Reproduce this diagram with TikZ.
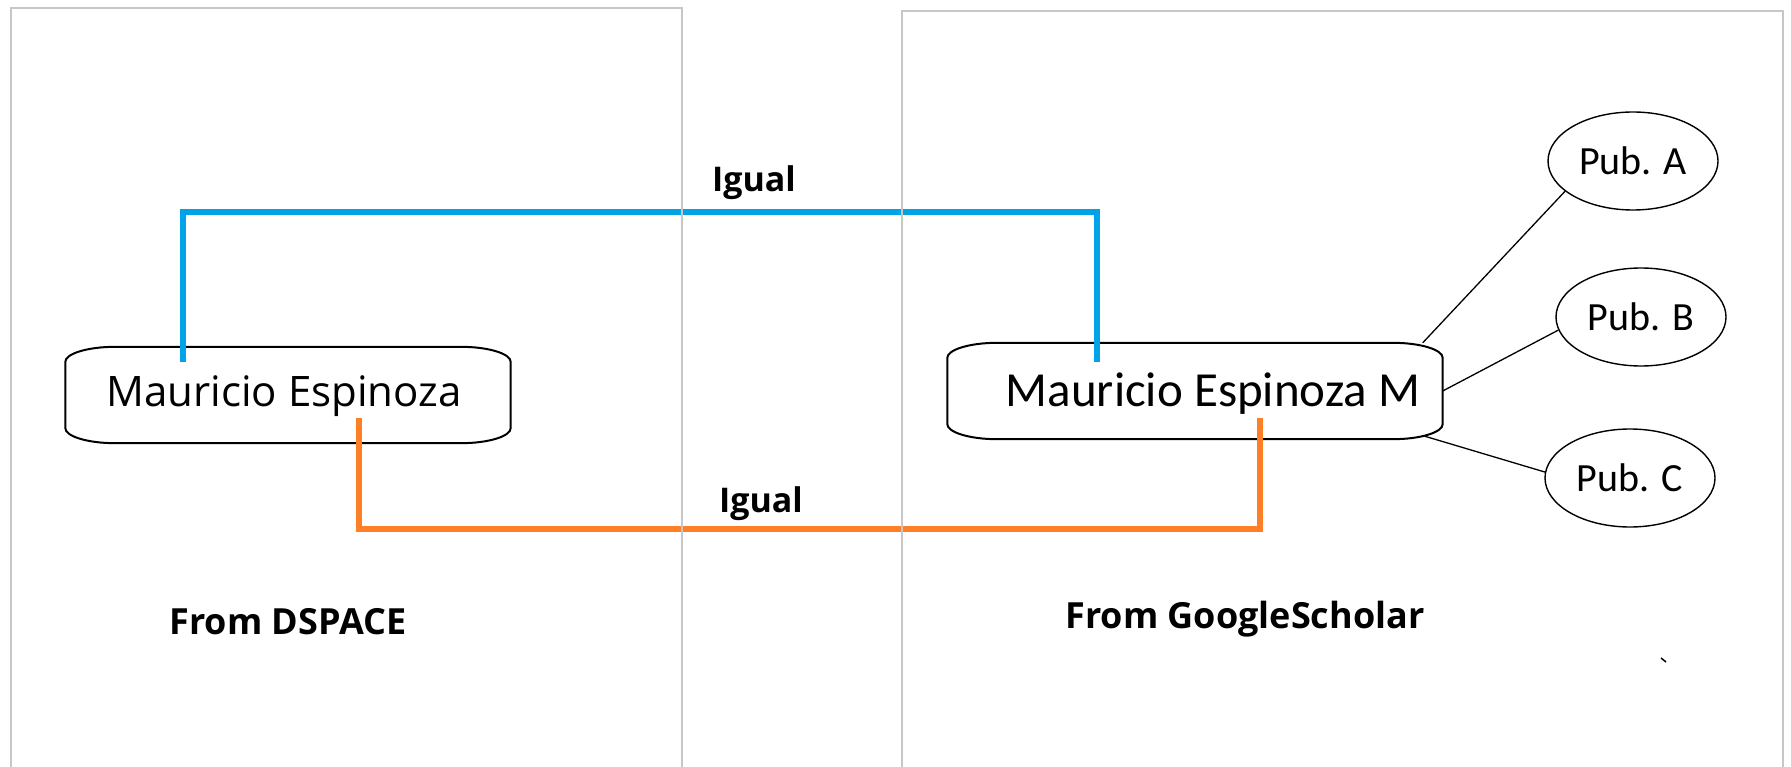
\documentclass[tikz,border=0pt]{standalone}
\usepackage{fontspec}
\setmainfont{Open Sans}
\newfontfamily\calibri{Carlito}
\usetikzlibrary{shapes.geometric}
\usetikzlibrary{calc}

\definecolor{paintblue}{RGB}{0,162,232}
\definecolor{paintorange}{RGB}{255,127,39}

\begin{document}
\begin{tikzpicture}[x=1pt,y=1pt]
  % Definimos los estilos
  \tikzstyle{panel} = [draw=black!22, line width=2pt];
  \tikzstyle{namebox} = [inner sep=0pt, minimum height=96pt];
  \tikzstyle{nametext} = [anchor=base, inner sep=0pt];
  \tikzstyle{pub} = [draw, ellipse, line width=1.4pt, minimum width=170pt, minimum height=98pt, inner sep=0pt, font=\calibri\fontsize{40}{48}\selectfont];
  \tikzstyle{tag} = [anchor=base, inner sep=0pt, font=\bfseries\fontsize{34}{40}\selectfont];
  \tikzstyle{source} = [anchor=base, inner sep=0pt, font=\bfseries\fontsize{36}{42}\selectfont];
  \tikzstyle{link} = [line width=6pt];
  \tikzstyle{publine} = [line width=1.3pt];

  \fill[white] (0,0) rectangle (1791,-767);
  \useasboundingbox (0,0) rectangle (1791,-767);

  % Las dos cajas con el nombre
  \node [namebox, minimum width=445pt] (dsbox) at (288,-395) {};
  \node [namebox, minimum width=495pt] (gsbox) at (1195,-391) {};
  \node [nametext, font=\fontsize{42}{48}\selectfont] (dsname) at (284,-406) {Mauricio Espinoza};
  \node [nametext, font=\calibri\fontsize{49}{56}\selectfont] (gsname) at (1213,-406) {Mauricio Espinoza M};

  % Contorno redondeado de cada caja
  \foreach \b in {dsbox,gsbox}
    \draw [line width=2pt]
      ([xshift=50]\b.north west) -- ([xshift=-50]\b.north east)
      .. controls ([xshift=-22]\b.north east) and ([yshift=-7]\b.north east) .. ([yshift=-15]\b.north east)
      -- ([yshift=15]\b.south east)
      .. controls ([yshift=7]\b.south east) and ([xshift=-22]\b.south east) .. ([xshift=-50]\b.south east)
      -- ([xshift=50]\b.south west)
      .. controls ([xshift=22]\b.south west) and ([yshift=7]\b.south west) .. ([yshift=15]\b.south west)
      -- ([yshift=-15]\b.north west)
      .. controls ([yshift=-7]\b.north west) and ([xshift=22]\b.north west) .. ([xshift=50]\b.north west);

  % Publicaciones
  \node [pub] (pubA) at (1633,-161) {Pub. A};
  \node [pub] (pubB) at (1641,-317) {Pub. B};
  \node [pub] (pubC) at (1630,-478) {Pub. C};

  \draw [publine] ([xshift=-20]gsbox.north east) -- (pubA.204);
  \draw [publine] (gsbox.east) -- (pubB.189);
  \draw [publine] ([xshift=-18,yshift=3]gsbox.south east) -- (pubC.176);

  % Conexiones "Igual"
  \coordinate (blueL) at (183,-362);
  \coordinate (blueR) at (1097,-362);
  \coordinate (orangeL) at (359,-418);
  \coordinate (orangeR) at (1260,-418);
  \draw [link, paintblue] (blueL) |- (754,-212) -| (blueR);
  \draw [link, paintorange] (orangeL) |- (760,-529) -| (orangeR);

  \node [tag] (igualtop) at (754,-192) {Igual};
  \node [tag] (igualbot) at (761,-512) {Igual};

  % Paneles
  \draw[panel] (11,-767) -- (11,-8) -- (682,-8) -- (682,-767);
  \draw[panel] (902,-767) -- (902,-11) -- (1783,-11) -- (1783,-767);

  \node [source] (dspace) at (288,-634) {From DSPACE};
  \node [source] (scholar) at (1245,-628) {From GoogleScholar};

  \draw [line width=1.5pt] (1661,-658) -- (1666,-662);
\end{tikzpicture}
\end{document}
